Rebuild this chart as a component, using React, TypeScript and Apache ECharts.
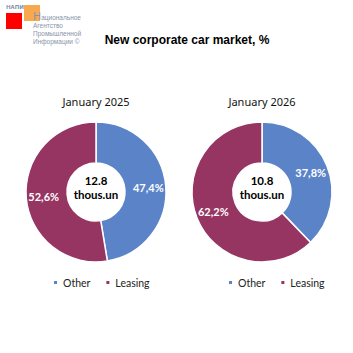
import React, { useEffect, useRef } from "react";
import * as echarts from "echarts";

const categories = ["Other", "Leasing"];
const jan2025 = [47.4, 52.6];
const jan2026 = [37.8, 62.2];
const totals = ["12.8", "10.8"];
const periods = ["January 2025", "January 2026"];
const colors = ["#5B84C8", "#963462"];
const logoLines = ["Национальное", "Агентство", "Промышленной", "Информации ©"];

export default function App() {
  const ref = useRef<HTMLDivElement>(null);
  useEffect(() => {
    const chart = echarts.init(ref.current!, null, { renderer: "svg" });
    const centersX = [96, 262];
    const cy = 192;
    const seriesData = [jan2025, jan2026];
    const font = "'Noto Sans', 'Open Sans', sans-serif";
    const narrow = "Lato, 'Noto Sans', sans-serif";
    const series = seriesData.map((vals, i) => ({
      type: "pie",
      name: periods[i],
      center: [centersX[i], cy],
      radius: [29, 70],
      startAngle: 90,
      clockwise: true,
      avoidLabelOverlap: false,
      itemStyle: { borderColor: "#fff", borderWidth: 1.5 },
      label: {
        show: true,
        position: "inside",
        color: "#fff",
        fontWeight: "bold",
        fontSize: 11,
        fontFamily: narrow,
        formatter: (p: any) => `${p.value.toFixed(1).replace(".", ",")}%`,
      },
      labelLine: { show: false },
      emphasis: { disabled: true },
      data: categories.map((c, j) => ({ name: c, value: vals[j], itemStyle: { color: colors[j] } })),
    }));
    const legends = centersX.map((x, i) => ({
      data: categories,
      left: i === 0 ? 47 : 222,
      top: 272,
      icon: "rect",
      itemWidth: 5,
      itemHeight: 5,
      itemGap: 14,
      textStyle: { fontSize: 10.5, color: "#222", fontFamily: narrow },
      selectedMode: false,
    }));
    const graphic: any[] = [
      { type: "rect", shape: { x: 6, y: 13, width: 16, height: 16 }, style: { fill: "#FF0000" } },
      { type: "rect", shape: { x: 24, y: 5, width: 16, height: 16 }, style: { fill: "#F7A03C", opacity: 0.9 } },
      { type: "text", x: 6, y: 4, style: { text: "НАПИ", fontSize: 6, fill: "#7A8CA8", fontFamily: font, fontWeight: "bold" } },
      {
        type: "text",
        x: 33,
        y: 12,
        style: {
          text: `{h|Н}{t|${logoLines[0].slice(1)}}\n` + logoLines.slice(1).map((t) => `{t|${t}}`).join("\n"),
          rich: {
            h: { fontSize: 11, fill: "#8894A8", fontFamily: font, lineHeight: 9, verticalAlign: "bottom" },
            t: { fontSize: 6.5, fill: "#8894A8", fontFamily: "'Liberation Sans', sans-serif", lineHeight: 8, verticalAlign: "bottom" },
          },
        },
      },
      {
        type: "text",
        x: 187,
        y: 34,
        style: { text: "New corporate car market, %", fontSize: 12, fontWeight: "bold", fill: "#000", fontFamily: "'Liberation Sans', Arial, sans-serif", textAlign: "center" },
      },
      ...centersX.map((x, i) => ({
        type: "text",
        x,
        y: 96,
        style: { text: periods[i], fontSize: 11, fill: "#111", fontFamily: font, textAlign: "center" },
      })),
      ...centersX.map((x, i) => ({
        type: "text",
        x,
        y: cy - 19,
        style: { text: `${totals[i]}\nthous.un`, fontSize: 11.5, lineHeight: 14, fontWeight: "bold", fill: "#000", fontFamily: narrow, textAlign: "center" },
      })),
    ];
    chart.setOption({
      animation: false,
      backgroundColor: "#fff",
      legend: legends,
      series,
      graphic,
    });
    return () => chart.dispose();
  }, []);
  return <div ref={ref} style={{ position: "fixed", left: 0, top: 0, width: 353, height: 353 }} />;
}
